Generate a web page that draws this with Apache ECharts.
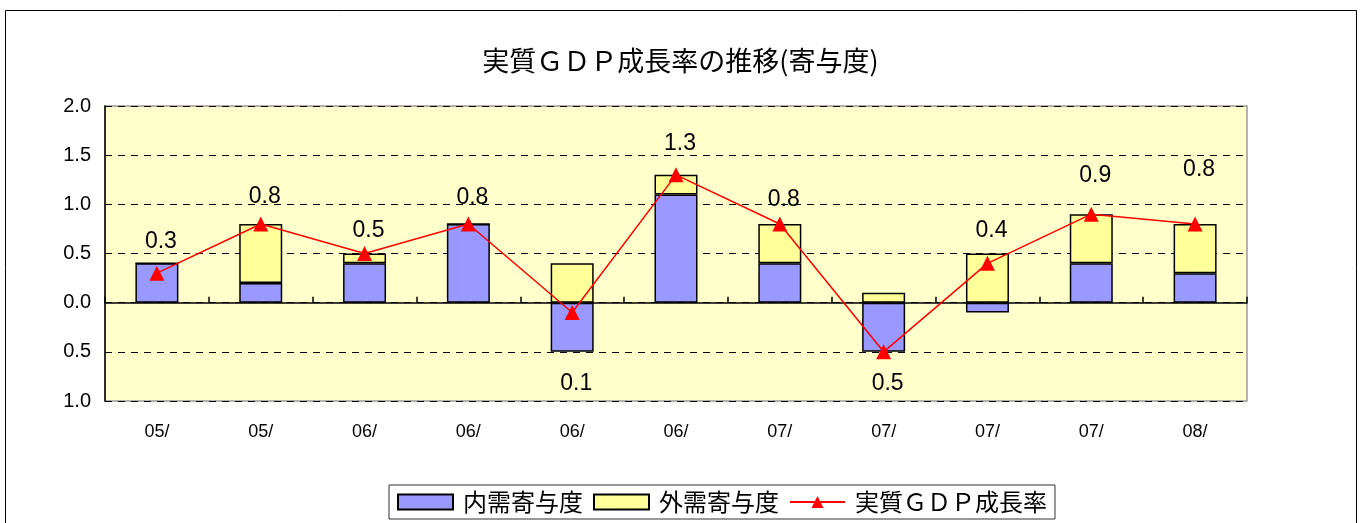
<!DOCTYPE html>
<html>
<head>
<meta charset="utf-8">
<script src="https://cdn.jsdelivr.net/npm/echarts@6/dist/echarts.min.js"></script>
<style>
  html, body { margin: 0; padding: 0; background: #fff; }
  #gdpChart { width: 1361px; height: 523px; }
</style>
</head>
<body>
<div id="gdpChart"></div>
<script>
// データ
const quarters = ['05/', '05/', '06/', '06/', '06/', '06/', '07/', '07/', '07/', '07/', '08/'];
const domestic = [0.4, 0.2, 0.4, 0.8, -0.5, 1.1, 0.4, -0.5, -0.1, 0.4, 0.3];   // 内需寄与度
const external = [0.0, 0.6, 0.1, 0.0, 0.4, 0.2, 0.4, 0.1, 0.5, 0.5, 0.5];    // 外需寄与度
const gdpGrowth = [0.3, 0.8, 0.5, 0.8, -0.1, 1.3, 0.8, -0.5, 0.4, 0.9, 0.8]; // 実質GDP成長率
const yTicks = [-1.0, -0.5, 0.0, 0.5, 1.0, 1.5, 2.0];

// ラベルの縦ずらし(px)
const labelDy = [-32, -27, -23, -26, 71, -31, -24, 32, -33, -39, -54];

const fontNum = 'Liberation Sans, Arial, sans-serif';
const fontJp = '"Noto Sans CJK JP", sans-serif';

// 元の図はマイナス記号が表示されていない
function noSign(v) {
  return Math.abs(v).toFixed(1);
}

const gdpChart = echarts.init(document.getElementById('gdpChart'));
gdpChart.setOption({
  animation: false,
  backgroundColor: '#fff',
  title: {
    text: '実質ＧＤＰ成長率の推移(寄与度)',
    left: 'center',
    top: 42,
    textStyle: { fontFamily: fontJp, fontSize: 27, fontWeight: 'normal', color: '#000' }
  },
  graphic: [
    {
      type: 'rect',
      shape: { x: 5.5, y: 10.5, width: 1351, height: 540 },
      style: { fill: 'none', stroke: '#000', lineWidth: 1 },
      silent: true
    }
  ],
  legend: {
    bottom: 4,
    left: 389,
    itemWidth: 55,
    itemHeight: 15,
    itemGap: 10,
    padding: [5, 8, 5, 8],
    borderColor: '#333',
    borderWidth: 1,
    textStyle: { fontFamily: fontJp, fontSize: 24, color: '#000', padding: [0, 0, 0, 5] },
    data: [
      { name: '内需寄与度', icon: 'rect' },
      { name: '外需寄与度', icon: 'rect' },
      { name: '実質ＧＤＰ成長率' }
    ]
  },
  grid: {
    left: 105,
    right: 114,
    top: 106,
    bottom: 122,
    show: true,
    backgroundColor: '#FFFFCC',
    borderColor: '#999',
    borderWidth: 1.5
  },
  xAxis: [
    {
      type: 'category',
      data: quarters,
      position: 'bottom',
      axisLine: { show: false, onZero: false },
      axisTick: { show: false },
      axisLabel: { margin: 22, fontFamily: fontNum, fontSize: 18, color: '#000' }
    },
    {
      type: 'category',
      data: quarters,
      position: 'bottom',
      axisLine: { show: true, onZero: true, lineStyle: { color: '#000', width: 1.5 } },
      axisTick: { show: true, inside: true, length: 6, lineStyle: { color: '#000', width: 1.5 } },
      axisLabel: { show: false }
    }
  ],
  yAxis: {
    type: 'value',
    min: yTicks[0],
    max: yTicks[yTicks.length - 1],
    interval: 0.5,
    axisLine: { show: true, lineStyle: { color: '#000', width: 1.5 } },
    axisTick: { show: false },
    axisLabel: {
      fontFamily: fontNum,
      fontSize: 20,
      color: '#000',
      margin: 14,
      formatter: noSign
    },
    splitLine: { show: true, lineStyle: { color: '#000', type: [7, 6], width: 1 } }
  },
  series: [
    {
      name: '内需寄与度',
      type: 'bar',
      stack: 'contrib',
      barWidth: 43,
      itemStyle: { color: '#9999FF', borderColor: '#000', borderWidth: 1.5 },
      data: domestic
    },
    {
      name: '外需寄与度',
      type: 'bar',
      stack: 'contrib',
      barWidth: 43,
      itemStyle: { color: '#FFFF99', borderColor: '#000', borderWidth: 1.5 },
      data: external
    },
    {
      name: '実質ＧＤＰ成長率',
      type: 'line',
      z: 5,
      symbol: 'triangle',
      symbolSize: 15,
      lineStyle: { color: '#FF0000', width: 1.5 },
      itemStyle: { color: '#FF0000' },
      label: {
        show: true,
        position: 'inside',
        fontFamily: fontNum,
        fontSize: 23,
        color: '#000',
        formatter: function (p) { return noSign(p.value); }
      },
      data: gdpGrowth.map(function (v, i) {
        return { value: v, label: { offset: [4, labelDy[i]] } };
      })
    }
  ]
});
</script>
</body>
</html>
